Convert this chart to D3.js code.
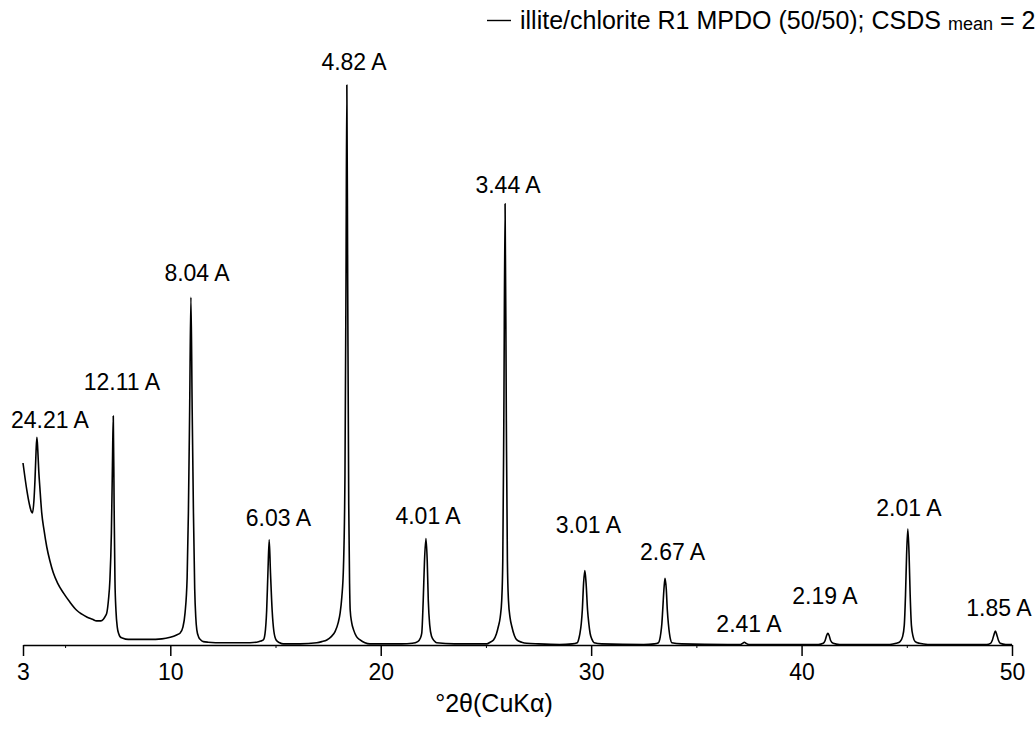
<!DOCTYPE html>
<html>
<head>
<meta charset="utf-8">
<script src="https://cdn.jsdelivr.net/npm/d3@7"></script>
<style>
  html, body { margin: 0; padding: 0; background: #fff; }
  svg { display: block; font-family: "Liberation Sans", Arial, Helvetica, sans-serif; }
</style>
</head>
<body>
<svg id="chart" width="1035" height="729"></svg>
<script>
// ---- data ----
const patternTwoTheta = [
  3.00, 3.09, 3.18, 3.30, 3.40, 3.45, 3.52, 3.57, 3.62, 3.66, 3.70, 3.75, 3.80, 3.89, 4.00, 4.13, 4.28, 4.44, 4.65, 4.92,
  5.20, 5.55, 5.80, 6.03, 6.30, 6.50, 6.70, 6.82, 6.92, 6.98, 7.06, 7.13, 7.20, 7.25, 7.29, 7.33, 7.37, 7.42, 7.48, 7.55,
  7.61, 7.75, 8.00, 9.00, 9.60, 10.00, 10.30, 10.46, 10.60, 10.70, 10.80, 10.86, 10.92, 10.98, 11.04, 11.10, 11.16, 11.21, 11.26, 11.35,
  11.45, 11.57, 11.80, 12.50, 13.50, 14.10, 14.30, 14.42, 14.50, 14.58, 14.64, 14.70, 14.76, 14.84, 14.92, 15.03, 15.20, 15.37, 16.17, 16.96,
  17.20, 17.44, 17.65, 17.83, 17.98, 18.07, 18.15, 18.23, 18.30, 18.35, 18.39, 18.43, 18.48, 18.52, 18.55, 18.62, 18.71, 18.85, 19.02, 19.25,
  19.49, 21.00, 21.50, 21.76, 21.88, 21.95, 22.02, 22.08, 22.15, 22.21, 22.26, 22.33, 22.42, 22.55, 22.66, 23.50, 24.50, 25.04, 25.20, 25.36,
  25.50, 25.59, 25.68, 25.75, 25.80, 25.85, 25.91, 25.97, 26.02, 26.07, 26.15, 26.23, 26.35, 26.47, 26.70, 26.94, 27.50, 28.50, 29.10, 29.34,
  29.42, 29.47, 29.53, 29.58, 29.64, 29.70, 29.76, 29.83, 29.89, 29.95, 30.04, 30.14, 30.50, 32.50, 33.00, 33.20, 33.26, 33.31, 33.36, 33.40,
  33.46, 33.51, 33.57, 33.62, 33.67, 33.72, 33.77, 33.83, 34.30, 36.50, 37.10, 37.20, 37.28, 37.36, 37.50, 40.80, 41.03, 41.12, 41.19, 41.25,
  41.31, 41.38, 41.50, 41.80, 44.20, 44.50, 44.68, 44.80, 44.88, 44.94, 44.99, 45.05, 45.11, 45.16, 45.22, 45.30, 45.40, 45.60, 46.00, 48.80,
  48.98, 49.06, 49.14, 49.21, 49.28, 49.36, 49.44, 49.70, 50.00
];
const patternIntensity = [
  325, 300, 277, 252, 238, 236, 258, 295, 345, 371, 350, 310, 282, 236, 205, 175, 150, 129, 110, 93,
  78, 62, 55, 50, 46, 43, 43, 46, 52, 57, 80, 116, 200, 320, 409, 250, 116, 60, 32, 20,
  15, 12, 10, 10, 11, 14, 18, 21, 32, 57, 120, 236, 420, 621, 420, 236, 100, 50, 27, 14,
  9, 6, 5, 4, 4, 5, 7, 9, 20, 62, 130, 188, 130, 62, 25, 9, 4, 2, 2, 4,
  6, 9, 15, 24, 40, 57, 85, 140, 300, 650, 1000, 650, 250, 110, 62, 40, 27, 15, 9, 4,
  2, 2, 3, 6, 12, 21, 80, 150, 190, 150, 80, 35, 15, 7, 4, 2, 2, 2, 5, 9,
  20, 33, 50, 80, 150, 400, 788, 400, 150, 80, 48, 33, 17, 9, 5, 3, 2, 1, 2, 4,
  12, 21, 38, 62, 110, 133, 110, 62, 38, 21, 10, 4, 2, 1, 2, 4, 10, 21, 38, 62,
  100, 119, 100, 62, 38, 21, 10, 4, 2, 1, 1, 3, 5, 3, 1, 1, 3, 8, 17, 21,
  17, 8, 3, 1, 1, 3, 6, 15, 35, 90, 160, 207, 160, 90, 35, 15, 6, 3, 1, 1,
  3, 8, 18, 25, 18, 8, 3, 1, 1
];

const peakLabels    = ["24.21 A", "12.11 A", "8.04 A", "6.03 A", "4.82 A", "4.01 A", "3.44 A", "3.01 A", "2.67 A", "2.41 A", "2.19 A", "2.01 A", "1.85 A"];
const labelTwoTheta = [4.28, 7.70, 11.27, 15.14, 18.73, 22.25, 26.05, 29.87, 33.87, 37.50, 41.11, 45.10, 49.38];
const labelLevel    = [387, 455, 650, 213, 1027, 216, 807, 200, 152, 24, 74, 230, 52];

const xTicks = [3, 10, 20, 30, 40, 50];
const xMinorTicks = [5, 15, 25, 35, 45];
const xDomain = [3, 50];
const yDomain = [0, 1000];

const legendMain = "illite/chlorite R1 MPDO (50/50); CSDS ";
const legendSub = "mean";
const legendTail = " = 20";
const xTitle = "°2θ(CuKα)";

// ---- drawing ----
const svg = d3.select("#chart");
const x = d3.scaleLinear().domain(xDomain).range([23, 1012]);
const y = d3.scaleLinear().domain(yDomain).range([645, 85]);

const pts = patternTwoTheta.map((t, i) => [t, patternIntensity[i]]);
const line = d3.line().x(d => x(d[0])).y(d => y(d[1])).curve(d3.curveMonotoneX);

svg.append("path")
  .datum(pts)
  .attr("d", line)
  .attr("fill", "none")
  .attr("stroke", "#000")
  .attr("stroke-width", 1.6)
  .attr("stroke-linejoin", "round");

// x axis
const axis = svg.append("g").attr("transform", "translate(0,645)");
axis.call(d3.axisBottom(x).tickValues(xTicks).tickSize(11).tickSizeOuter(0).tickPadding(8).tickFormat(d3.format("d")));
axis.select(".domain").attr("stroke-width", 1.5);
axis.selectAll(".tick line").attr("stroke-width", 1.5);
axis.selectAll(".tick text").attr("font-size", 23).attr("font-family", "Liberation Sans, Arial, sans-serif").attr("fill", "#000");

const minor = svg.append("g").attr("transform", "translate(0,645)");
minor.call(d3.axisBottom(x).tickValues(xMinorTicks).tickSize(3).tickSizeOuter(0).tickFormat(""));
minor.select(".domain").remove();

svg.append("text")
  .attr("x", 494).attr("y", 712)
  .attr("text-anchor", "middle")
  .attr("font-size", 25)
  .text(xTitle);

// peak labels
svg.append("g").selectAll("text")
  .data(peakLabels)
  .join("text")
  .attr("x", (d, i) => x(labelTwoTheta[i]))
  .attr("y", (d, i) => y(labelLevel[i]))
  .attr("text-anchor", "middle")
  .attr("font-size", 23)
  .text(d => d);

// legend
const lg = svg.append("g");
lg.append("line").attr("x1", 487).attr("x2", 511).attr("y1", 20.5).attr("y2", 20.5)
  .attr("stroke", "#000").attr("stroke-width", 1.4);
const lt = lg.append("text").attr("x", 520).attr("y", 29).attr("font-size", 25);
lt.append("tspan").text(legendMain);
lt.append("tspan").attr("font-size", 18).attr("dy", 1).text(legendSub);
lt.append("tspan").attr("dy", -1).text(legendTail);
</script>
</body>
</html>
